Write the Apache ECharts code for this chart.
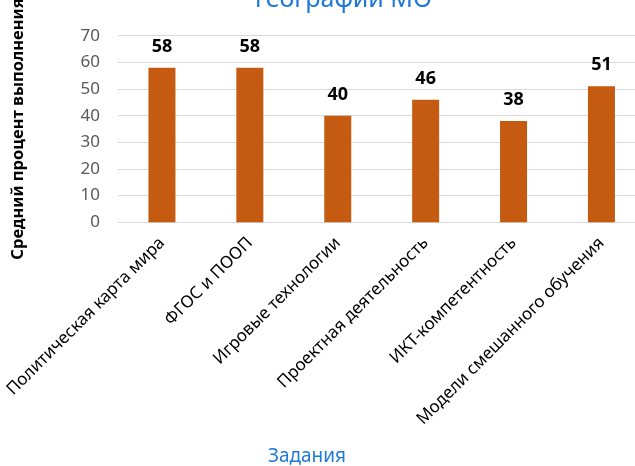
<!DOCTYPE html>
<html><head><meta charset="utf-8">
<script src="https://cdn.jsdelivr.net/npm/echarts@6/dist/echarts.min.js"></script>
<style>html,body{margin:0;padding:0;background:#fff}#c{width:635px;height:466px}</style>
</head><body><div id="c"></div>
<script>
const categories = ['Политическая карта мира','ФГОС и ПООП','Игровые технологии','Проектная деятельность','ИКТ-компетентность','Модели смешанного обучения'];
const values = [58, 58, 40, 46, 38, 51];
const yTicks = {min: 0, max: 70, interval: 10};
const titleText = 'географии МО';
const xTitle = 'Задания';
const yTitle = 'Средний процент выполнения';

const chart = echarts.init(document.getElementById('c'));
const font = '"Noto Sans", "Open Sans", sans-serif';
chart.setOption({
  animation: false,
  title: [
    {text: titleText, left: 250, top: -18, textStyle: {color: '#1F78D6', fontSize: 25, fontWeight: 'normal', fontFamily: font}},
    {text: xTitle, left: 268, top: 447, padding: 0, textStyle: {color: '#1F78D6', fontSize: 19, fontWeight: 'normal', fontFamily: font}}
  ],
  grid: {left: 118, top: 35.7, width: 527.4, height: 186.6, outerBoundsMode: 'none', containLabel: false},
  xAxis: {
    type: 'category', data: categories,
    axisLine: {lineStyle: {color: '#D9D9D9', width: 1}},
    axisTick: {show: false},
    axisLabel: {rotate: 45, interval: 0, margin: 18, color: '#000', fontSize: 17, fontFamily: font}
  },
  yAxis: {
    type: 'value', min: yTicks.min, max: yTicks.max, interval: yTicks.interval,
    name: yTitle, nameLocation: 'middle', nameGap: 91,
    nameTextStyle: {color: '#000', fontSize: 16.5, fontWeight: 'bold', fontFamily: font},
    axisLine: {show: false}, axisTick: {show: false},
    axisLabel: {margin: 18, color: '#595959', fontSize: 17, fontFamily: font},
    splitLine: {lineStyle: {color: '#D9D9D9', width: 1}}
  },
  series: [{
    type: 'bar', data: values, barWidth: 27,
    itemStyle: {color: '#C55A11'},
    label: {show: true, position: 'top', distance: 12, color: '#000', fontSize: 18, fontWeight: 'bold', fontFamily: font}
  }]
});
</script></body></html>
